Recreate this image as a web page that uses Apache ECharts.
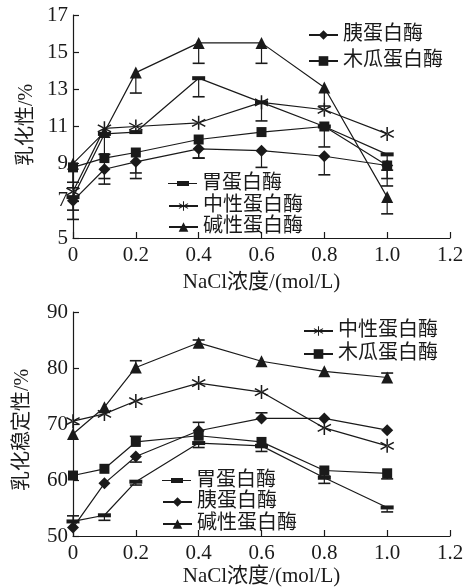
<!DOCTYPE html>
<html>
<head>
<meta charset="utf-8">
<script src="https://cdn.jsdelivr.net/npm/echarts@6/dist/echarts.min.js"></script>
<style>
  html, body { margin: 0; padding: 0; background: #fff; }
  #main { width: 469px; height: 588px; }
</style>
</head>
<body>
<div id="main"></div>
<script>
// NaCl 浓度 (mol/L)
const nacl = [0, 0.1, 0.2, 0.4, 0.6, 0.8, 1.0];

// 乳化性/%  (上图)
const ehPepsin  = [7.2, 10.6, 10.7, 13.6, 12.3, 11.0, 9.5];
const ehTrypsin = [7.0, 8.7, 9.1, 9.8, 9.7, 9.4, 8.9];
const ehPapain  = [8.8, 9.3, 9.6, 10.3, 10.7, 11.0, 8.9];
const ehNeutral = [7.5, 10.9, 11.0, 11.2, 12.3, 11.9, 10.6];
const ehAlkali  = [9.0, 10.7, 13.9, 15.5, 15.5, 13.1, 7.2];
// 误差 (负值向下, 0 = 无)
const ehPepsinErr  = [-0.7, 0, 0, -1.0, 0, 0, -0.85];
const ehTrypsinErr = [-1.0, -0.5, -0.6, -0.5, -0.9, -1.0, -1.1];
const ehPapainErr  = [-0.8, -1.4, -1.4, -1.0, 0, -1.1, -0.7];
const ehNeutralErr = [0, 0, 0, 0, -1.0, 0, 0];
const ehAlkaliErr  = [-1.3, -1.2, -1.1, -1.1, -1.1, -1.0, -0.9];

// 乳化稳定性/%  (下图)
const esPepsin  = [52.6, 53.7, 59.7, 66.6, 66.1, 60.4, 55.1];
const esTrypsin = [51.5, 59.4, 64.2, 68.8, 71.0, 71.0, 68.9];
const esPapain  = [60.8, 62.0, 66.8, 67.9, 66.8, 61.7, 61.2];
const esNeutral = [70.5, 71.8, 74.1, 77.3, 75.7, 69.3, 66.1];
const esAlkali  = [68.2, 73.0, 80.1, 84.5, 81.2, 79.4, 78.3];
const esPepsinErr  = [1.0, -0.9, -0.6, -0.8, -1.0, -1.0, -0.8];
const esTrypsinErr = [0, 0, -1.0, 1.5, 1.0, 0, 0];
const esPapainErr  = [0, 0, 1.0, 0, -1.0, -1.0, -1.0];
const esNeutralErr = [0, 0, 0, 0, 0, 0, 0];
const esAlkaliErr  = [0, 0, 1.2, 0.5, 0, 0, 0.8];

const xTicks = ['0', '0.2', '0.4', '0.6', '0.8', '1.0', '1.2'];

const FONT = "'Liberation Serif', 'Noto Sans CJK SC', serif";
const INK = '#1a1a1a';

const starPath = 'path://M9,0 L11,0 L11,20 L9,20 Z M1.84,15.87 L19.16,5.87 L18.16,4.13 L0.84,14.13 Z M0.84,5.87 L18.16,15.87 L19.16,14.13 L1.84,4.13 Z';
const dashPath = 'path://M0,0 L12,0 L12,3 L0,3 Z';
// 图例里 胃蛋白酶 的图标: 线 + 短粗横条
const dashIcon = 'path://M0,2 L29,2 L29,3 L0,3 Z M9,0 L21,0 L21,5 L9,5 Z';

const marks = {
  '胃蛋白酶':   { symbol: dashPath, size: [13, 4] },
  '胰蛋白酶':   { symbol: 'diamond', size: 12 },
  '木瓜蛋白酶': { symbol: 'rect', size: 10 },
  '中性蛋白酶': { symbol: starPath, size: 14 },
  '碱性蛋白酶': { symbol: 'triangle', size: 12 }
};

function lineSeries(name, vals, idx) {
  return {
    name: name,
    type: 'line',
    xAxisIndex: idx,
    yAxisIndex: idx,
    data: nacl.map((x, i) => [x, vals[i]]),
    symbol: marks[name].symbol,
    symbolSize: marks[name].size,
    showSymbol: true,
    lineStyle: { color: INK, width: 1.2 },
    itemStyle: { color: INK },
    z: 3
  };
}

function errSeries(vals, errs, idx) {
  const d = [];
  nacl.forEach((x, i) => {
    if (errs[i] !== 0) d.push([x, vals[i], vals[i] + errs[i]]);
  });
  return {
    name: 'err' + idx,
    type: 'custom',
    xAxisIndex: idx,
    yAxisIndex: idx,
    data: d,
    z: 2,
    renderItem: function (params, api) {
      const p0 = api.coord([api.value(0), api.value(1)]);
      const p1 = api.coord([api.value(0), api.value(2)]);
      const w = 6;
      return {
        type: 'group',
        children: [
          { type: 'line', shape: { x1: p0[0], y1: p0[1], x2: p1[0], y2: p1[1] }, style: { stroke: INK, lineWidth: 1.2 } },
          { type: 'line', shape: { x1: p1[0] - w, y1: p1[1], x2: p1[0] + w, y2: p1[1] }, style: { stroke: INK, lineWidth: 1.6 } }
        ]
      };
    }
  };
}

function xAxis(idx, gap) {
  return {
    type: 'value', gridIndex: idx, min: 0, max: 1.2, interval: 0.2,
    name: 'NaCl浓度/(mol/L)', nameLocation: 'middle', nameGap: gap,
    nameTextStyle: { fontFamily: FONT, fontSize: 21, color: INK },
    axisLine: { show: true, lineStyle: { color: INK, width: 1.2 } },
    axisTick: { inside: true, length: 6, lineStyle: { color: INK, width: 1.2 } },
    axisLabel: { fontFamily: FONT, fontSize: 21, color: INK, margin: 7,
      formatter: v => xTicks[Math.round(v / 0.2)] },
    splitLine: { show: false }
  };
}

function yAxis(idx, min, max, step) {
  return {
    type: 'value', gridIndex: idx, min: min, max: max, interval: step,
    axisLine: { show: true, lineStyle: { color: INK, width: 1.2 } },
    axisTick: { inside: true, length: 6, lineStyle: { color: INK, width: 1.2 } },
    axisLabel: { fontFamily: FONT, fontSize: 21, color: INK, margin: 5 },
    splitLine: { show: false }
  };
}

// 纵轴标题 (竖排, 放在刻度数字左侧)
function yTitle(text, cx, cy) {
  return {
    type: 'text', x: cx, y: cy, rotation: Math.PI / 2,
    style: { text: text, align: 'center', verticalAlign: 'middle',
      font: '20px ' + FONT, fill: INK }
  };
}

// 每个图例条目单独放置, 以便对齐原图的位置
function legendItem(name, left, centerY) {
  const isDash = name === '胃蛋白酶';
  const h = isDash ? 5 : 12;
  const item = isDash ? { name: name, icon: dashIcon } : { name: name };
  return {
    data: [item], left: left, top: centerY - h / 2 - (isDash ? 4 : 0), padding: 0,
    itemWidth: 29, itemHeight: h, selectedMode: false,
    textStyle: { fontFamily: FONT, fontSize: 20, color: INK }
  };
}

const chart = echarts.init(document.getElementById('main'));
chart.setOption({
  animation: false,
  backgroundColor: '#fff',
  grid: [
    { left: 73, top: 15, width: 377, height: 223 },
    { left: 73, top: 312, width: 377, height: 226 }
  ],
  xAxis: [xAxis(0, 34), xAxis(1, 30)],
  yAxis: [yAxis(0, 5, 17, 2), yAxis(1, 50, 90, 10)],
  graphic: [
    yTitle('乳化性/%', 27, 125),
    yTitle('乳化稳定性/%', 23, 430)
  ],
  legend: [
    legendItem('胰蛋白酶', 308, 31),
    legendItem('木瓜蛋白酶', 308, 57),
    legendItem('胃蛋白酶', 168, 180),
    legendItem('中性蛋白酶', 168, 202),
    legendItem('碱性蛋白酶', 168, 223),
    legendItem('中性蛋白酶', 303, 327),
    legendItem('木瓜蛋白酶', 303, 350),
    legendItem('胃蛋白酶', 162, 477),
    legendItem('胰蛋白酶', 162, 498),
    legendItem('碱性蛋白酶', 162, 520)
  ],
  series: [
    errSeries(ehPepsin, ehPepsinErr, 0),
    errSeries(ehTrypsin, ehTrypsinErr, 0),
    errSeries(ehPapain, ehPapainErr, 0),
    errSeries(ehNeutral, ehNeutralErr, 0),
    errSeries(ehAlkali, ehAlkaliErr, 0),
    lineSeries('胃蛋白酶', ehPepsin, 0),
    lineSeries('胰蛋白酶', ehTrypsin, 0),
    lineSeries('木瓜蛋白酶', ehPapain, 0),
    lineSeries('中性蛋白酶', ehNeutral, 0),
    lineSeries('碱性蛋白酶', ehAlkali, 0),
    errSeries(esPepsin, esPepsinErr, 1),
    errSeries(esTrypsin, esTrypsinErr, 1),
    errSeries(esPapain, esPapainErr, 1),
    errSeries(esNeutral, esNeutralErr, 1),
    errSeries(esAlkali, esAlkaliErr, 1),
    lineSeries('胃蛋白酶', esPepsin, 1),
    lineSeries('胰蛋白酶', esTrypsin, 1),
    lineSeries('木瓜蛋白酶', esPapain, 1),
    lineSeries('中性蛋白酶', esNeutral, 1),
    lineSeries('碱性蛋白酶', esAlkali, 1)
  ]
});
</script>
</body>
</html>
